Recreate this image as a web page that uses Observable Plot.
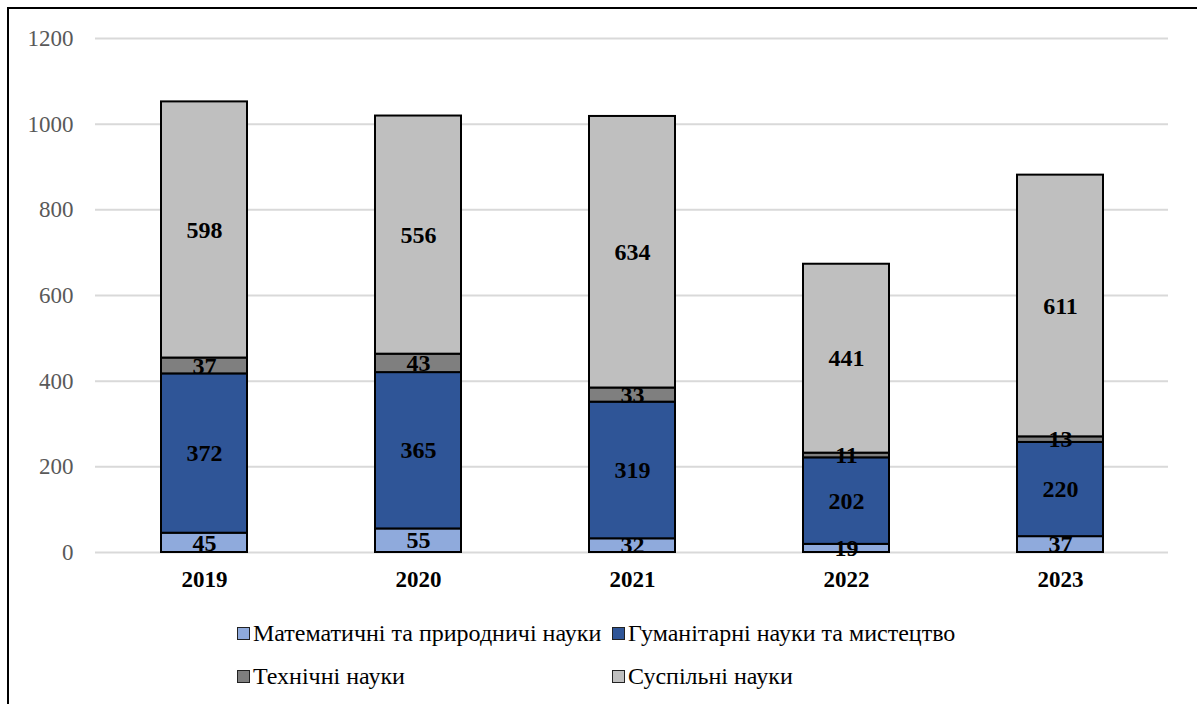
<!DOCTYPE html>
<html>
<head>
<meta charset="utf-8">
<script src="https://cdn.jsdelivr.net/npm/d3@7"></script>
<script src="https://cdn.jsdelivr.net/npm/@observablehq/plot@0.6"></script>
<style>
  html, body { margin: 0; padding: 0; background: #fff; }
  body { width: 1197px; height: 704px; position: relative; overflow: hidden; font-family: "Liberation Serif", "Times New Roman", "DejaVu Serif", serif; }
  #frame { position: absolute; left: 7px; top: 7px; width: 1200px; height: 710px; border-left: 2px solid #000; border-top: 2px solid #000; box-sizing: border-box; pointer-events: none; }
  #chart { position: absolute; left: 0; top: 0; }
  .leg { position: absolute; font-family: "Liberation Serif", "Times New Roman", "DejaVu Serif", serif; font-size: 24px; color: #000; white-space: nowrap; display: flex; align-items: center; line-height: 1; }
  .sw { display: inline-block; width: 11px; height: 11px; border: 1.5px solid #222; margin-right: 3px; }
</style>
</head>
<body>
<div id="chart"></div>
<div id="legend"></div>
<div id="frame"></div>
<script>
const years = ["2019", "2020", "2021", "2022", "2023"];
const categories = ["Математичні та природничі науки", "Гуманітарні науки та мистецтво", "Технічні науки", "Суспільні науки"];
const colors = ["#8FAADC", "#2F5597", "#7F7F7F", "#BFBFBF"];
const mathNat = [45, 55, 32, 19, 37];
const humanities = [372, 365, 319, 202, 220];
const technical = [37, 43, 33, 11, 13];
const social = [598, 556, 634, 441, 611];
const yTicks = [0, 200, 400, 600, 800, 1000, 1200];

const series = [mathNat, humanities, technical, social];
const data = [];
years.forEach((yr, i) => {
  series.forEach((s, k) => data.push({year: yr, cat: categories[k], value: s[i]}));
});

const font = '"Liberation Serif", "Times New Roman", "DejaVu Serif", serif';

const chart = Plot.plot({
  width: 1197,
  height: 600,
  marginLeft: 95,
  marginRight: 29,
  marginTop: 38,
  marginBottom: 48,
  style: { fontFamily: font, background: "transparent" },
  x: { domain: years, paddingInner: 0.6, paddingOuter: 0.3, axis: null, label: null },
  y: { domain: [0, 1200], axis: null, label: null },
  color: { domain: categories, range: colors },
  marks: [
    Plot.gridY(yTicks, { stroke: "#D9D9D9", strokeWidth: 2, strokeOpacity: 1 }),
    Plot.axisY(yTicks, { tickSize: 0, tickPadding: 22, fontSize: 23, fill: "#595959", fontFamily: font, label: null, tickFormat: d => String(d) }),
    Plot.barY(data, { x: "year", y: "value", fill: "cat", stroke: "#000", strokeWidth: 2, order: null }),
    Plot.text(data, Plot.stackY({ x: "year", y: "value", z: "cat", order: null, text: d => String(d.value), fontSize: 24, fontWeight: "bold", fill: "#000", fontFamily: font })),
    Plot.axisX({ tickSize: 0, tickPadding: 18, fontSize: 23, fontWeight: "bold", fill: "#000", fontFamily: font, label: null })
  ]
});
document.getElementById("chart").appendChild(chart);

const legendPos = [
  {x: 237, y: 633},
  {x: 612, y: 633},
  {x: 237, y: 676},
  {x: 612, y: 676}
];
const legend = document.getElementById("legend");
categories.forEach((c, i) => {
  const d = document.createElement("div");
  d.className = "leg";
  d.style.left = legendPos[i].x + "px";
  d.style.top = (legendPos[i].y - 12) + "px";
  d.innerHTML = `<span class="sw" style="background:${colors[i]}"></span><span>${c}</span>`;
  legend.appendChild(d);
});
</script>
</body>
</html>
